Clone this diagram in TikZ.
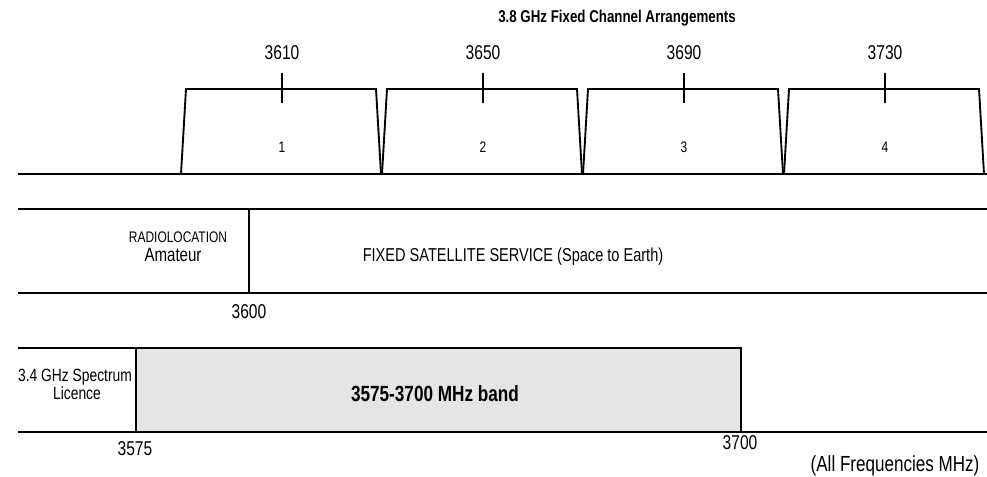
\documentclass[tikz,border=0pt]{standalone}
\usepackage{fontspec}
\setmainfont{Liberation Sans}[FakeStretch=0.78]
\tikzset{
	chan/.style={line width=1.4pt},
	band/.style={line width=1pt},
	txt/.style={inner sep=0pt,anchor=base},
	lbl/.style={txt,font=\fontsize{15}{17}\selectfont},
	small/.style={txt,font=\fontsize{11.5}{13}\selectfont}
}
\begin{document}
\begin{tikzpicture}[x=0.75pt,y=-0.75pt]
	\useasboundingbox(0,0)rectangle(987,477);
	% channel arrangements
	\node[txt,font=\bfseries\fontsize{12.8}{15}\selectfont](title)at(617,23){3.8 GHz Fixed Channel Arrangements};
	\draw[band](18,174)coordinate(t1)--(987,174)coordinate(t2);
	\foreach \n/\f [count=\i from 0] in {1/3610,2/3650,3/3690,4/3730}{
		\pgfmathsetmacro\xa{181+201*\i}
		\draw[chan]({\xa},174)coordinate(c\n a)--({\xa+5},89)coordinate(c\n b)
			--({\xa+195},89)coordinate(c\n c)--({\xa+200},174)coordinate(c\n d);
		\draw[chan]({\xa+101},73)coordinate(k\n)--({\xa+101},103);
		\node[lbl](f\n)at({\xa+101},60){\f};
		\node[small](n\n)at({\xa+101},153){\n};
	}
	% allocations
	\draw[band](18,209)coordinate(a1)--(987,209)coordinate(a2);
	\draw[band](18,293)coordinate(a3)--(987,293)coordinate(a4);
	\draw[band](249,209)coordinate(d1)--(249,293)coordinate(d2);
	\node[txt,font=\fontsize{11.5}{13}\selectfont](radio)at(178,243){RADIOLOCATION};
	\node[txt,font=\fontsize{14.5}{17}\selectfont](amat)at(173,261){Amateur};
	\node[txt,font=\fontsize{14}{16}\selectfont](fss)at(513,261){FIXED SATELLITE SERVICE (Space to Earth)};
	\node[lbl](f3600)at(249,318){3600};
	% licence band
	\draw[band](18,348)coordinate(b1)--(136,348);
	\draw[band,fill=black!10](136,348)coordinate(b2)rectangle(741,432)coordinate(b3);
	\draw[band](18,432)coordinate(b4)--(987,432)coordinate(b5);
	\node[txt,font=\fontsize{13.3}{15}\selectfont](lic)at(75,381){3.4 GHz Spectrum};
	\node[txt,font=\fontsize{13.3}{15}\selectfont](lic2)at(77,399){Licence};
	\node[txt,font=\bfseries\fontsize{16.5}{19}\selectfont](bnd)at(435,401){3575-3700 MHz band};
	\node[lbl](f3575)at(135,455){3575};
	\node[lbl](f3700)at(740,449){3700};
	\node[txt,font=\fontsize{16.4}{19}\selectfont](all)at(895,471){(All Frequencies MHz)};
\end{tikzpicture}
\end{document}
